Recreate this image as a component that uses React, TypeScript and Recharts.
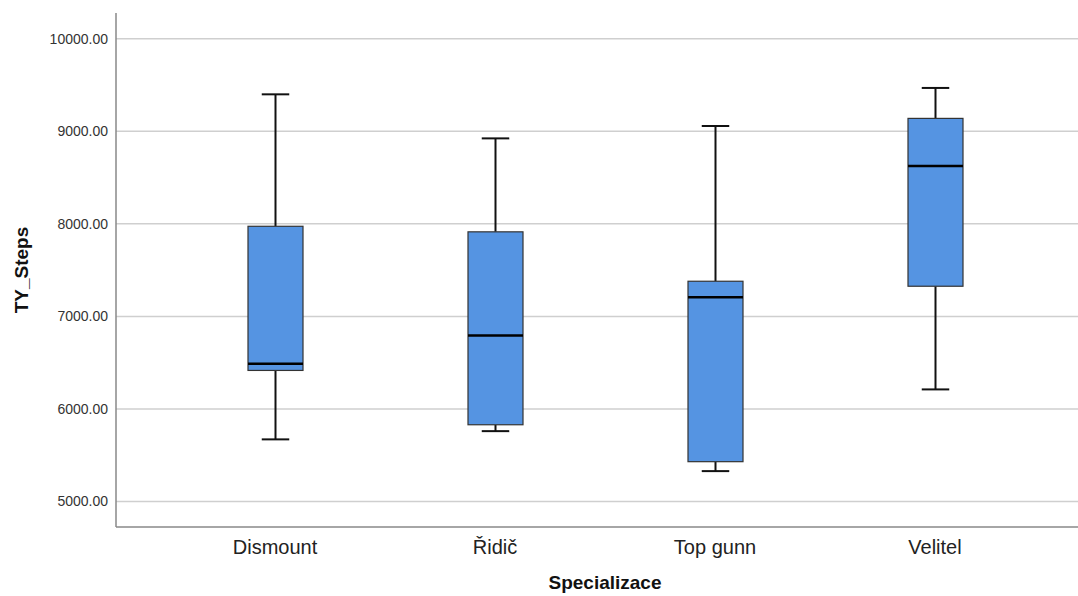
import React from "react";
import {
  Bar,
  CartesianGrid,
  ComposedChart,
  XAxis,
  YAxis,
} from "recharts";

// Box plot summary per specialisation
const categories = ["Dismount", "Řidič", "Top gunn", "Velitel"];
const minValues = [5671, 5760, 5328, 6211];
const q1Values = [6416, 5829, 5430, 7326];
const medianValues = [6488, 6794, 7207, 8626];
const q3Values = [7974, 7914, 7380, 9140];
const maxValues = [9400, 8924, 9058, 9469];
const yTicks = [5000, 6000, 7000, 8000, 9000, 10000];

const data = categories.map((name, i) => ({
  name,
  min: minValues[i],
  q1: q1Values[i],
  median: medianValues[i],
  q3: q3Values[i],
  max: maxValues[i],
  range: [minValues[i], maxValues[i]],
}));

const FONT = "'Liberation Sans', Arial, sans-serif";

const BoxShape = (props: any) => {
  const { x, y, width, height, payload } = props;
  const { min, q1, median, q3, max } = payload;
  // bar spans [min, max]; scale is linear so map inside it
  const toY = (v: number) => y + ((max - v) / (max - min)) * height;
  const cx = x + width / 2;
  const capW = width / 2;
  const yMax = toY(max);
  const yQ3 = toY(q3);
  const yMed = toY(median);
  const yQ1 = toY(q1);
  const yMin = toY(min);
  return (
    <g>
      <line x1={cx} x2={cx} y1={yMax} y2={yQ3} stroke="#111" strokeWidth={2} />
      <line x1={cx} x2={cx} y1={yQ1} y2={yMin} stroke="#111" strokeWidth={2} />
      <line x1={cx - capW / 2} x2={cx + capW / 2} y1={yMax} y2={yMax} stroke="#111" strokeWidth={2} />
      <line x1={cx - capW / 2} x2={cx + capW / 2} y1={yMin} y2={yMin} stroke="#111" strokeWidth={2} />
      <rect
        x={x}
        y={yQ3}
        width={width}
        height={yQ1 - yQ3}
        fill="#5594E2"
        stroke="#333"
        strokeWidth={1.2}
      />
      <line x1={x} x2={x + width} y1={yMed} y2={yMed} stroke="#000" strokeWidth={2.6} />
    </g>
  );
};

const App: React.FC = () => {
  return (
    <div style={{ position: "absolute", left: 0, top: 0, background: "#fff" }}>
      <ComposedChart
        width={1078}
        height={596}
        data={data}
        margin={{ top: 13, right: 0, bottom: 0, left: 0 }}
      >
        <CartesianGrid
          vertical={false}
          horizontalValues={yTicks}
          stroke="#cfcfcf"
          strokeWidth={1.5}
        />
        <XAxis
          dataKey="name"
          height={69}
          padding={{ left: 49, right: 33 }}
          axisLine={{ stroke: "#888", strokeWidth: 1.5 }}
          tickLine={false}
          tickMargin={7}
          tick={{ fill: "#222", fontSize: 20, fontFamily: FONT }}
          label={{
            value: "Specializace",
            position: "insideBottom",
            offset: 7,
            dx: 8,
            style: { fontWeight: "bold", fontSize: 19, fill: "#111", fontFamily: FONT },
          }}
        />
        <YAxis
          type="number"
          width={116}
          domain={[4724, 10279]}
          allowDataOverflow
          ticks={yTicks}
          tickFormatter={(v: number) => v.toFixed(2)}
          axisLine={{ stroke: "#888", strokeWidth: 1.5 }}
          tickLine={false}
          tick={{ fill: "#333", fontSize: 14, fontFamily: FONT }}
          label={{
            value: "TY_Steps",
            angle: -90,
            position: "insideLeft",
            offset: 21,
            style: { textAnchor: "middle", fontWeight: "bold", fontSize: 19, fill: "#111", fontFamily: FONT },
          }}
        />
        <Bar dataKey="range" barSize={55} shape={BoxShape} isAnimationActive={false} />
      </ComposedChart>
    </div>
  );
};

export default App;
